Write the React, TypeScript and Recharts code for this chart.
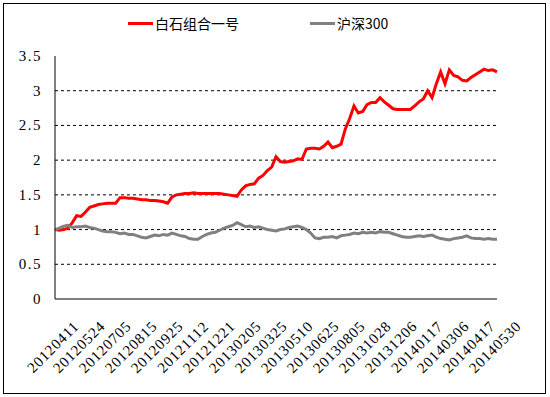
import React from "react";
import { LineChart, Line, XAxis, YAxis, CartesianGrid, Legend } from "recharts";

const tickLabels = [
  "20120411", "20120524", "20120705", "20120815", "20120925", "20121112",
  "20121221", "20130205", "20130325", "20130510", "20130625", "20130805",
  "20131028", "20131206", "20140117", "20140306", "20140417", "20140530",
];

const seriesNames = ["白石组合一号", "沪深300"];

// 白石组合一号 (net value, read every ~5 trading days)
const baishi = [
  1.0, 0.99, 1.0, 1.02, 1.1, 1.2, 1.19, 1.25, 1.32, 1.34, 1.36, 1.37,
  1.38, 1.38, 1.38, 1.46, 1.46, 1.45, 1.45, 1.44, 1.43, 1.43, 1.42, 1.42,
  1.41, 1.4, 1.38, 1.47, 1.5, 1.51, 1.52, 1.52, 1.53, 1.52, 1.52, 1.52,
  1.52, 1.52, 1.52, 1.51, 1.5, 1.49, 1.48, 1.57, 1.63, 1.65, 1.66, 1.74,
  1.78, 1.85, 1.9, 2.05, 1.98, 1.97, 1.98, 1.99, 2.02, 2.01, 2.16, 2.17,
  2.17, 2.16, 2.2, 2.26, 2.18, 2.2, 2.23, 2.45, 2.6, 2.78, 2.68, 2.7,
  2.8, 2.83, 2.83, 2.9, 2.84, 2.79, 2.74, 2.73, 2.73, 2.73, 2.73, 2.78,
  2.84, 2.88, 3.0, 2.9, 3.1, 3.27, 3.1, 3.3, 3.22, 3.2, 3.15, 3.14,
  3.19, 3.23, 3.27, 3.31, 3.29, 3.3, 3.27,
];

// 沪深300
const hs300 = [
  1.0, 1.02, 1.05, 1.06, 1.03, 1.04, 1.04, 1.05, 1.03, 1.02, 1.0, 0.98,
  0.97, 0.97, 0.96, 0.94, 0.95, 0.93, 0.93, 0.91, 0.89, 0.88, 0.9, 0.92,
  0.91, 0.93, 0.92, 0.95, 0.93, 0.91, 0.9, 0.87, 0.86, 0.86, 0.9, 0.93,
  0.95, 0.96, 0.99, 1.02, 1.04, 1.06, 1.1, 1.07, 1.04, 1.05, 1.03, 1.04,
  1.02, 1.0, 0.99, 0.98, 1.0, 1.01, 1.03, 1.04, 1.05, 1.03, 1.0, 0.95,
  0.88, 0.87, 0.89, 0.89, 0.9, 0.88, 0.91, 0.92, 0.93, 0.95, 0.94, 0.96,
  0.95, 0.96, 0.95, 0.97, 0.96, 0.96, 0.94, 0.92, 0.9, 0.89, 0.89, 0.9,
  0.91, 0.9, 0.91, 0.92, 0.89, 0.87, 0.86, 0.85, 0.87, 0.88, 0.89, 0.91,
  0.88, 0.87, 0.87, 0.86, 0.87, 0.86, 0.86,
];

const yTicks = [0, 0.5, 1, 1.5, 2, 2.5, 3, 3.5];
const gridValues = [0.5, 1, 1.5, 2, 2.5, 3];

const STEP = 6; // points between two labelled dates
const xTicks = tickLabels.map((_, k) => k * STEP);
const data = baishi.map((v, i) => ({ i, baishi: v, hs300: hs300[i] }));

const FONT = "'Liberation Serif', serif";

const DateTick = (props: any) => {
  const { x, payload } = props;
  const cx = x - 2;
  const cy = 347;
  return (
    <text
      x={cx}
      y={cy}
      textAnchor="middle"
      dominantBaseline="central"
      transform={`rotate(-45, ${cx}, ${cy})`}
      fontFamily={FONT}
      fontSize={15}
      letterSpacing={0.8}
      fill="#000"
    >
      {tickLabels[Math.round(payload.value / STEP)]}
    </text>
  );
};

const ValueTick = (props: any) => {
  const { x, y, payload } = props;
  return (
    <text
      x={x}
      y={y}
      textAnchor="end"
      dominantBaseline="central"
      fontFamily={FONT}
      fontSize={15}
      letterSpacing={1.5}
      fill="#000"
    >
      {payload.value}
    </text>
  );
};

const LegendBox = (props: any) => {
  const items = [...(props.payload || [])].sort(
    (a: any, b: any) => seriesNames.indexOf(a.value) - seriesNames.indexOf(b.value)
  );
  return (
    <div style={{ display: "flex", marginLeft: 128, gap: 71, alignItems: "center" }}>
      {items.map((it: any) => (
        <div key={it.value} style={{ display: "flex", alignItems: "center" }}>
          <span style={{ width: 25, height: 3, background: it.color, marginRight: 2 }} />
          <span style={{ fontFamily: "'Noto Sans CJK SC', sans-serif", fontSize: 14, color: "#000" }}>
            {it.value}
          </span>
        </div>
      ))}
    </div>
  );
};

export default function App() {
  return (
    <div style={{ position: "absolute", left: 0, top: 0, width: 550, height: 397, background: "#fff" }}>
      <div
        style={{
          position: "absolute",
          left: 3,
          top: 3,
          width: 543,
          height: 391,
          border: "1.5px solid #000",
          boxSizing: "border-box",
        }}
      />
      <LineChart width={550} height={397} data={data} margin={{ top: 56, right: 53, bottom: 8, left: 0 }}>
        <CartesianGrid
          vertical={false}
          horizontalValues={gridValues}
          stroke="#000"
          strokeDasharray="3 3"
        />
        <XAxis
          dataKey="i"
          type="number"
          domain={[0, 102]}
          ticks={xTicks}
          interval={0}
          tick={<DateTick />}
          tickLine={false}
          axisLine={{ stroke: "#000" }}
          height={90}
        />
        <XAxis
          xAxisId="top"
          orientation="top"
          type="number"
          domain={[0, 102]}
          tick={false}
          tickLine={false}
          axisLine={{ stroke: "#a6a6a6" }}
          height={0}
        />
        <YAxis
          domain={[0, 3.5]}
          ticks={yTicks}
          interval={0}
          tickLine={false}
          tickSize={0}
          tickMargin={13}
          axisLine={{ stroke: "#000" }}
          width={55}
          tick={<ValueTick />}
        />
        <YAxis
          yAxisId="right"
          orientation="right"
          domain={[0, 3.5]}
          tick={false}
          tickLine={false}
          axisLine={{ stroke: "#a6a6a6" }}
          width={0}
        />
        <Legend
          verticalAlign="middle"
          align="center"
          layout="horizontal"
          wrapperStyle={{ top: 13, left: 0, width: 550 }}
          content={<LegendBox />}
        />
        <Line
          type="linear"
          dataKey="baishi"
          name={seriesNames[0]}
          stroke="#ff0000"
          strokeWidth={3}
          dot={false}
          isAnimationActive={false}
        />
        <Line
          type="linear"
          dataKey="hs300"
          name={seriesNames[1]}
          stroke="#808080"
          strokeWidth={3}
          dot={false}
          isAnimationActive={false}
        />
      </LineChart>
    </div>
  );
}
